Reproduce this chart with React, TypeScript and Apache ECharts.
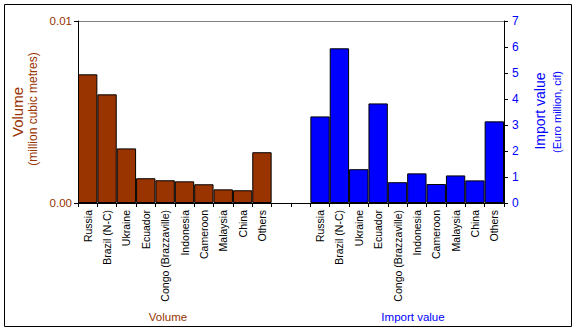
import React, { useEffect, useRef } from "react";
import * as echarts from "echarts";

const countries = ["Russia", "Brazil (N-C)", "Ukraine", "Ecuador", "Congo (Brazzaville)", "Indonesia", "Cameroon", "Malaysia", "China", "Others"];
const volumeValues = [0.00707, 0.00597, 0.0030, 0.00136, 0.00125, 0.00119, 0.00103, 0.00075, 0.0007, 0.00279];
const importValues = [3.33, 5.95, 1.30, 3.83, 0.80, 1.14, 0.73, 1.06, 0.87, 3.14];
const gapSlots = 2;

const BROWN = "#993300";
const BLUE = "#0000FF";
const FONT = "'Liberation Sans', Arial, sans-serif";

export default function App() {
  const ref = useRef<HTMLDivElement>(null);
  useEffect(() => {
    document.body.style.margin = "0";
    const chart = echarts.init(ref.current!, null, { renderer: "svg" });
    const gap = Array(gapSlots).fill("");
    const cats = [...countries, ...gap, ...countries].map((c, i) => ({ value: "c" + i, label: c }));
    const labelOf = cats.map((c) => c.label);
    const empty = Array(countries.length + gapSlots).fill(null);
    const volData = [...volumeValues, ...Array(gapSlots + countries.length).fill(null)];
    const impData = [...empty, ...importValues];
    chart.setOption({
      animation: false,
      backgroundColor: "#fff",
      textStyle: { fontFamily: FONT },
      grid: { left: 78, right: 73, top: 21, bottom: 129 },
      xAxis: {
        type: "category",
        data: cats.map((c) => c.value),
        axisLine: { lineStyle: { color: "#000", width: 1 } },
        axisTick: { show: true, interval: 0, length: 4, lineStyle: { color: "#000" } },
        axisLabel: {
          interval: 0,
          rotate: 90,
          color: "#000",
          fontSize: 10.5,
          fontFamily: FONT,
          margin: 7,
          formatter: (_v: string, i: number) => labelOf[i],
        },
      },
      yAxis: [
        {
          type: "value",
          min: 0,
          max: 0.01,
          interval: 0.01,
          position: "left",
          axisLine: { show: true, lineStyle: { color: "#000" } },
          axisTick: { show: true, length: 4, lineStyle: { color: "#000" } },
          axisLabel: { color: BROWN, fontSize: 11.5, fontFamily: FONT, margin: 6, formatter: (v: number) => v.toFixed(2) },
          splitLine: { show: true, lineStyle: { color: "#808080", width: 1 } },
        },
        {
          type: "value",
          min: 0,
          max: 7,
          interval: 1,
          position: "right",
          axisLine: { show: true, lineStyle: { color: "#000" } },
          axisTick: { show: true, length: 4, lineStyle: { color: "#000" } },
          axisLabel: { color: BLUE, fontSize: 12, fontFamily: FONT, margin: 8 },
          splitLine: { show: false },
        },
      ],
      series: [
        {
          type: "bar",
          yAxisIndex: 0,
          data: volData,
          barGap: "-100%",
          barCategoryGap: "0%",
          itemStyle: { color: BROWN, borderColor: "#000", borderWidth: 1 },
        },
        {
          type: "bar",
          yAxisIndex: 1,
          data: impData,
          barGap: "-100%",
          barCategoryGap: "0%",
          itemStyle: { color: BLUE, borderColor: "#000", borderWidth: 1 },
        },
      ],
      graphic: [
        {
          type: "rect",
          shape: { x: 4.5, y: 4.5, width: 567, height: 322 },
          style: { fill: "none", stroke: "#000", lineWidth: 1 },
          z: -1,
        },
        {
          type: "text",
          x: 17,
          y: 112,
          rotation: Math.PI / 2,
          style: { text: "Volume", fill: BROWN, font: "15px " + FONT, textAlign: "center", textVerticalAlign: "middle" },
        },
        {
          type: "text",
          x: 33,
          y: 109,
          rotation: Math.PI / 2,
          style: { text: "(million cubic metres)", fill: BROWN, font: "12px " + FONT, textAlign: "center", textVerticalAlign: "middle" },
        },
        {
          type: "text",
          x: 540,
          y: 111,
          rotation: Math.PI / 2,
          style: { text: "Import value", fill: BLUE, font: "14px " + FONT, textAlign: "center", textVerticalAlign: "middle" },
        },
        {
          type: "text",
          x: 557,
          y: 112,
          rotation: Math.PI / 2,
          style: { text: "(Euro million, cif)", fill: BLUE, font: "11px " + FONT, textAlign: "center", textVerticalAlign: "middle" },
        },
        {
          type: "text",
          x: 168,
          y: 317,
          style: { text: "Volume", fill: BROWN, font: "11.5px " + FONT, textAlign: "center", textVerticalAlign: "middle" },
        },
        {
          type: "text",
          x: 413,
          y: 317,
          style: { text: "Import value", fill: BLUE, font: "11.5px " + FONT, textAlign: "center", textVerticalAlign: "middle" },
        },
      ],
    });
    return () => chart.dispose();
  }, []);
  return <div ref={ref} style={{ width: 577, height: 332 }} />;
}
